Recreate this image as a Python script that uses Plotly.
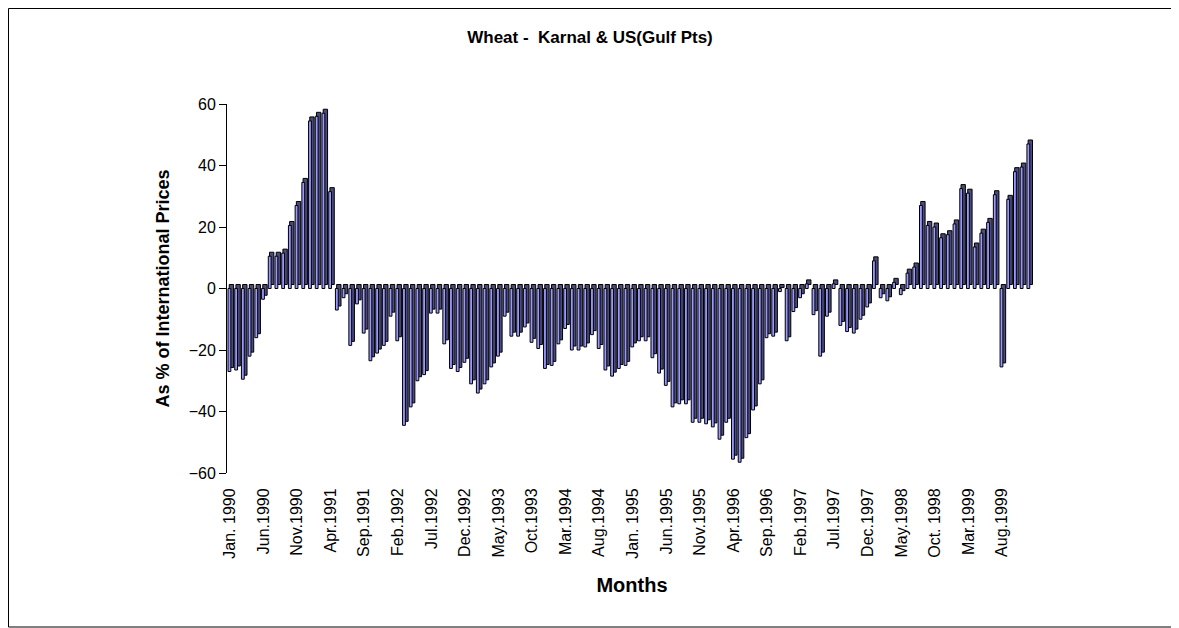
import plotly.graph_objects as go

# monthly values, Jan 1990 - Dec 1999 (as % of international prices)
values = [
    -27, -26.5, -29.5, -22, -16, -3.5,
    10.5, 10.5, 11.5, 20.5, 27, 34.5, 54.5, 56, 57, 31.5,
    -7, -3, -18.5, -5, -14.5, -23.5, -21, -18.5, -9, -17,
    -44.5, -38.5, -30, -28, -8, -8, -18, -26, -27, -24,
    -31, -34, -31, -25.5, -22, -9, -15.5, -15.5, -12.5, -17.5,
    -19.5, -26, -25, -18, -13, -20, -20, -19, -15, -19.5,
    -26.5, -28.5, -26, -25, -19, -17, -17, -22.5, -27.5, -31.5,
    -38.5, -37.5, -37.5, -43.5, -43.5, -44, -45, -49, -43.5, -55.5,
    -56.5, -48.5, -39.5, -31, -16, -15.5, -1, -17, -7.5, -3,
    1.5, -8.5, -22, -9, 1.5, -12, -14, -14.5, -10, -6,
    9, -3, -4, 2, -2, 5, 7, 27, 20.5, 20,
    16.5, 17.5, 21, 32.5, 31, 13.5, 18, 21.5, 30.5, -25.5,
    29, 38, 39.5, 47,
]
months = list(range(len(values)))

tick_pos = list(range(0, 120, 5))
tick_text = ["Jan. 1990", "Jun.1990", "Nov.1990", "Apr.1991", "Sep.1991", "Feb.1992",
             "Jul.1992", "Dec.1992", "May.1993", "Oct.1993", "Mar.1994", "Aug.1994",
             "Jan. 1995", "Jun.1995", "Nov.1995", "Apr.1996", "Sep.1996", "Feb.1997",
             "Jul.1997", "Dec.1997", "May.1998", "Oct. 1998", "Mar.1999", "Aug.1999"]

depth = 1.3
font = "Arial, Liberation Sans, sans-serif"

fig = go.Figure()
# side / top faces (drawn behind, shifted right and up)
fig.add_trace(go.Bar(x=months, y=values, base=[depth] * len(values),
                     offset=-0.12, width=0.65, marker_color="#4A4A7E",
                     marker_line=dict(color="black", width=1)))
# front faces
fig.add_trace(go.Bar(x=months, y=values, offset=-0.3, width=0.42,
                     marker_color="#9999FF",
                     marker_line=dict(color="black", width=1)))

# page body has an 8px margin, so the figure is a bit smaller than the window
W, H = 1171, 620
l, r, t, b = 219, 142, 96, 155
pw, ph = W - l - r, H - t - b

fig.update_layout(
    width=W, height=H, barmode="overlay", showlegend=False,
    plot_bgcolor="white", paper_bgcolor="white",
    margin=dict(l=l, r=r, t=t, b=b),
    font=dict(family=font, color="black"),
    title=dict(text="<b>Wheat -\u00a0 Karnal & US(Gulf Pts)</b>", x=582 / W,
               xref="container", xanchor="center",
               y=1 - 29 / H, yanchor="middle", font=dict(size=17)),
    xaxis=dict(range=[-0.45, 120.2], tickvals=tick_pos, ticktext=tick_text,
               tickangle=-90, tickfont=dict(size=16), showgrid=False,
               zeroline=False, showline=False, ticks="outside", ticklen=8,
               tickcolor="white",
               title=dict(text="<b>Months</b>", font=dict(size=20), standoff=20)),
    yaxis=dict(range=[-60, 60], dtick=20, showgrid=False, zeroline=False,
               showline=True, linecolor="black", linewidth=1,
               ticks="outside", ticklen=7, tickcolor="black", tickfont=dict(size=16),
               title=dict(text="<b>As % of International Prices</b>",
                          font=dict(size=18), standoff=14)),
    shapes=[dict(type="rect", xref="paper", yref="paper",
                 x0=(0.5 - l) / pw, x1=(W - 1 - l) / pw,
                 y0=-(b - 1) / ph, y1=(ph + t - 0.5) / ph,
                 line=dict(color="black", width=1))],
)

fig.write_html("out.html")
